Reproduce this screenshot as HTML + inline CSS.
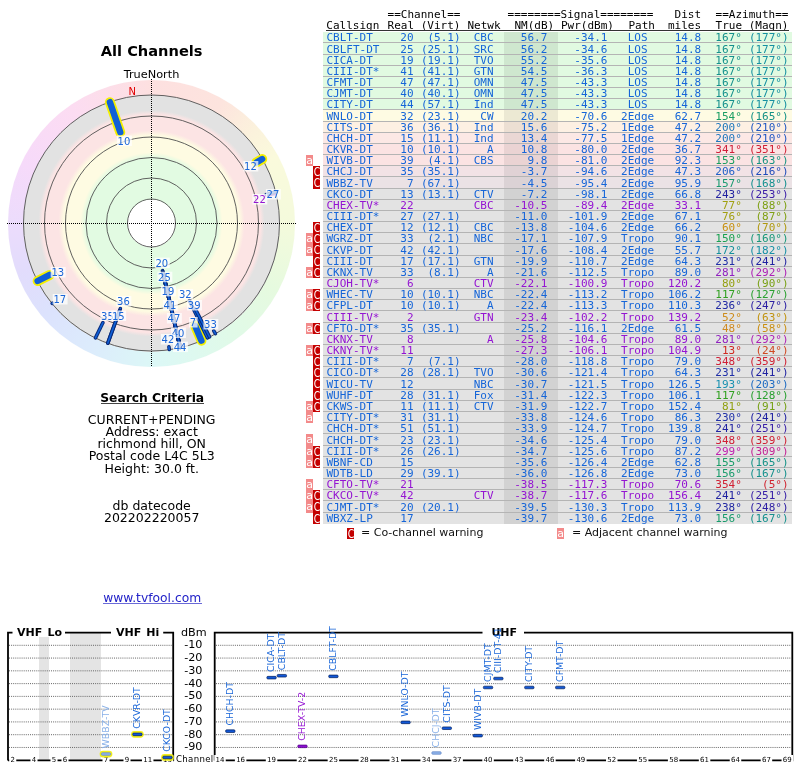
<!DOCTYPE html>
<html><head><meta charset="utf-8"><title>TV Fool</title>
<style>
html,body{margin:0;padding:0;background:#fff;}
body{width:800px;height:768px;overflow:hidden;position:relative;font-family:"DejaVu Sans","Liberation Sans",sans-serif;}
i{font-style:normal;position:absolute;white-space:pre;}
.m{font-family:"DejaVu Sans Mono","Liberation Mono",monospace;font-size:11px;line-height:11px;height:11px;margin-top:-9px;}
.row{position:absolute;left:323px;width:469px;}
.strip{position:absolute;left:504px;width:53.5px;}
.sep{position:absolute;left:323px;width:469px;height:1px;background:#b4b4b4;}
.wa,.wc{position:absolute;width:7px;height:11px;color:#fff;font:11px/12px "DejaVu Sans",sans-serif;text-align:center;overflow:hidden;}
.wc{font-size:11.5px;line-height:13px;}
.wc b{display:inline-block;font-weight:normal;transform:scaleX(.8);}
.hd{color:#1a1a1a;}
.wa{background:#f38a8a;}
.wc{background:#c40000;}
.s{font-size:12px;line-height:14px;}
</style></head><body>

<i class="m" style="left:387.60px;top:17.90px">==Channel==</i>
<i class="m" style="left:507.60px;top:17.90px">========Signal========</i>
<i class="m" style="left:674.52px;top:17.90px">Dist</i>
<i class="m" style="left:715.60px;top:17.90px">==Azimuth==</i>
<i class="m" style="left:326.30px;top:28.75px">Callsign</i>
<i class="m" style="left:387.60px;top:28.75px">Real (Virt)</i>
<i class="m" style="left:467.50px;top:28.75px">Netwk</i>
<i class="m" style="left:514.40px;top:28.75px">NM(dB)</i>
<i class="m" style="left:561.00px;top:28.75px">Pwr(dBm)</i>
<i class="m" style="left:628.40px;top:28.75px">Path</i>
<i class="m" style="left:667.90px;top:28.75px">miles</i>
<i class="m" style="left:715.60px;top:28.75px">True (Magn)</i>
<div style="position:absolute;left:326px;top:30px;width:463px;height:1px;background:#333"></div>
<div class="row" style="top:32px;height:11px;background:#e1fae1"></div>
<div class="strip" style="top:32px;height:11px;background:#cfe7cf"></div>
<div class="sep" style="top:42px"></div>
<i class="m" style="left:326.50px;top:41.00px;color:#1565d8">CBLT-DT</i>
<i class="m" style="left:400.36px;top:41.00px;color:#1565d8">20</i>
<i class="m" style="left:427.50px;top:41.00px;color:#1565d8">(5.1)</i>
<i class="m" style="left:473.74px;top:41.00px;color:#1565d8">CBC</i>
<i class="m" style="left:520.82px;top:41.00px;color:#1565d8">56.7</i>
<i class="m" style="left:574.30px;top:41.00px;color:#1565d8">-34.1</i>
<i class="m" style="left:627.67px;top:41.00px;color:#1565d8">LOS</i>
<i class="m" style="left:674.72px;top:41.00px;color:#1565d8">14.8</i>
<i class="m" style="left:715.32px;top:41.00px;color:#14908c">167°</i>
<i class="m" style="left:748.88px;top:41.00px;color:#1590a1">(177°)</i>
<div class="row" style="top:43px;height:12px;background:#e1fae1"></div>
<div class="strip" style="top:43px;height:12px;background:#cfe7cf"></div>
<div class="sep" style="top:54px"></div>
<i class="m" style="left:326.50px;top:53.00px;color:#1565d8">CBLFT-DT</i>
<i class="m" style="left:400.36px;top:53.00px;color:#1565d8">25</i>
<i class="m" style="left:420.88px;top:53.00px;color:#1565d8">(25.1)</i>
<i class="m" style="left:473.74px;top:53.00px;color:#1565d8">SRC</i>
<i class="m" style="left:520.82px;top:53.00px;color:#1565d8">56.2</i>
<i class="m" style="left:574.30px;top:53.00px;color:#1565d8">-34.6</i>
<i class="m" style="left:627.67px;top:53.00px;color:#1565d8">LOS</i>
<i class="m" style="left:674.72px;top:53.00px;color:#1565d8">14.8</i>
<i class="m" style="left:715.32px;top:53.00px;color:#14908c">167°</i>
<i class="m" style="left:748.88px;top:53.00px;color:#1590a1">(177°)</i>
<div class="row" style="top:55px;height:11px;background:#e1fae1"></div>
<div class="strip" style="top:55px;height:11px;background:#cfe7cf"></div>
<div class="sep" style="top:65px"></div>
<i class="m" style="left:326.50px;top:64.00px;color:#1565d8">CICA-DT</i>
<i class="m" style="left:400.36px;top:64.00px;color:#1565d8">19</i>
<i class="m" style="left:420.88px;top:64.00px;color:#1565d8">(19.1)</i>
<i class="m" style="left:473.74px;top:64.00px;color:#1565d8">TVO</i>
<i class="m" style="left:520.82px;top:64.00px;color:#1565d8">55.2</i>
<i class="m" style="left:574.30px;top:64.00px;color:#1565d8">-35.6</i>
<i class="m" style="left:627.67px;top:64.00px;color:#1565d8">LOS</i>
<i class="m" style="left:674.72px;top:64.00px;color:#1565d8">14.8</i>
<i class="m" style="left:715.32px;top:64.00px;color:#14908c">167°</i>
<i class="m" style="left:748.88px;top:64.00px;color:#1590a1">(177°)</i>
<div class="row" style="top:66px;height:11px;background:#e1fae1"></div>
<div class="strip" style="top:66px;height:11px;background:#cfe7cf"></div>
<div class="sep" style="top:76px"></div>
<i class="m" style="left:326.50px;top:75.00px;color:#1565d8">CIII-DT*</i>
<i class="m" style="left:400.36px;top:75.00px;color:#1565d8">41</i>
<i class="m" style="left:420.88px;top:75.00px;color:#1565d8">(41.1)</i>
<i class="m" style="left:473.74px;top:75.00px;color:#1565d8">GTN</i>
<i class="m" style="left:520.82px;top:75.00px;color:#1565d8">54.5</i>
<i class="m" style="left:574.30px;top:75.00px;color:#1565d8">-36.3</i>
<i class="m" style="left:627.67px;top:75.00px;color:#1565d8">LOS</i>
<i class="m" style="left:674.72px;top:75.00px;color:#1565d8">14.8</i>
<i class="m" style="left:715.32px;top:75.00px;color:#14908c">167°</i>
<i class="m" style="left:748.88px;top:75.00px;color:#1590a1">(177°)</i>
<div class="row" style="top:77px;height:11px;background:#e1fae1"></div>
<div class="strip" style="top:77px;height:11px;background:#cfe7cf"></div>
<div class="sep" style="top:87px"></div>
<i class="m" style="left:326.50px;top:86.00px;color:#1565d8">CFMT-DT</i>
<i class="m" style="left:400.36px;top:86.00px;color:#1565d8">47</i>
<i class="m" style="left:420.88px;top:86.00px;color:#1565d8">(47.1)</i>
<i class="m" style="left:473.74px;top:86.00px;color:#1565d8">OMN</i>
<i class="m" style="left:520.82px;top:86.00px;color:#1565d8">47.5</i>
<i class="m" style="left:574.30px;top:86.00px;color:#1565d8">-43.3</i>
<i class="m" style="left:627.67px;top:86.00px;color:#1565d8">LOS</i>
<i class="m" style="left:674.72px;top:86.00px;color:#1565d8">14.8</i>
<i class="m" style="left:715.32px;top:86.00px;color:#14908c">167°</i>
<i class="m" style="left:748.88px;top:86.00px;color:#1590a1">(177°)</i>
<div class="row" style="top:88px;height:11px;background:#e1fae1"></div>
<div class="strip" style="top:88px;height:11px;background:#cfe7cf"></div>
<div class="sep" style="top:98px"></div>
<i class="m" style="left:326.50px;top:97.00px;color:#1565d8">CJMT-DT</i>
<i class="m" style="left:400.36px;top:97.00px;color:#1565d8">40</i>
<i class="m" style="left:420.88px;top:97.00px;color:#1565d8">(40.1)</i>
<i class="m" style="left:473.74px;top:97.00px;color:#1565d8">OMN</i>
<i class="m" style="left:520.82px;top:97.00px;color:#1565d8">47.5</i>
<i class="m" style="left:574.30px;top:97.00px;color:#1565d8">-43.3</i>
<i class="m" style="left:627.67px;top:97.00px;color:#1565d8">LOS</i>
<i class="m" style="left:674.72px;top:97.00px;color:#1565d8">14.8</i>
<i class="m" style="left:715.32px;top:97.00px;color:#14908c">167°</i>
<i class="m" style="left:748.88px;top:97.00px;color:#1590a1">(177°)</i>
<div class="row" style="top:99px;height:11px;background:#e1fae1"></div>
<div class="strip" style="top:99px;height:11px;background:#cfe7cf"></div>
<div class="sep" style="top:109px"></div>
<i class="m" style="left:326.50px;top:108.00px;color:#1565d8">CITY-DT</i>
<i class="m" style="left:400.36px;top:108.00px;color:#1565d8">44</i>
<i class="m" style="left:420.88px;top:108.00px;color:#1565d8">(57.1)</i>
<i class="m" style="left:473.74px;top:108.00px;color:#1565d8">Ind</i>
<i class="m" style="left:520.82px;top:108.00px;color:#1565d8">47.5</i>
<i class="m" style="left:574.30px;top:108.00px;color:#1565d8">-43.3</i>
<i class="m" style="left:627.67px;top:108.00px;color:#1565d8">LOS</i>
<i class="m" style="left:674.72px;top:108.00px;color:#1565d8">14.8</i>
<i class="m" style="left:715.32px;top:108.00px;color:#14908c">167°</i>
<i class="m" style="left:748.88px;top:108.00px;color:#1590a1">(177°)</i>
<div class="row" style="top:110px;height:12px;background:#fefbe3"></div>
<div class="strip" style="top:110px;height:12px;background:#ece9d3"></div>
<div class="sep" style="top:121px"></div>
<i class="m" style="left:326.50px;top:120.00px;color:#1565d8">WNLO-DT</i>
<i class="m" style="left:400.36px;top:120.00px;color:#1565d8">32</i>
<i class="m" style="left:420.88px;top:120.00px;color:#1565d8">(23.1)</i>
<i class="m" style="left:480.36px;top:120.00px;color:#1565d8">CW</i>
<i class="m" style="left:520.82px;top:120.00px;color:#1565d8">20.2</i>
<i class="m" style="left:574.30px;top:120.00px;color:#1565d8">-70.6</i>
<i class="m" style="left:621.05px;top:120.00px;color:#1565d8">2Edge</i>
<i class="m" style="left:674.72px;top:120.00px;color:#1565d8">62.7</i>
<i class="m" style="left:715.32px;top:120.00px;color:#189d62">154°</i>
<i class="m" style="left:748.88px;top:120.00px;color:#159286">(165°)</i>
<div class="row" style="top:122px;height:11px;background:#fdf0e3"></div>
<div class="strip" style="top:122px;height:11px;background:#ecdfd3"></div>
<div class="sep" style="top:132px"></div>
<i class="m" style="left:326.50px;top:131.00px;color:#1565d8">CITS-DT</i>
<i class="m" style="left:400.36px;top:131.00px;color:#1565d8">36</i>
<i class="m" style="left:420.88px;top:131.00px;color:#1565d8">(36.1)</i>
<i class="m" style="left:473.74px;top:131.00px;color:#1565d8">Ind</i>
<i class="m" style="left:520.82px;top:131.00px;color:#1565d8">15.6</i>
<i class="m" style="left:574.30px;top:131.00px;color:#1565d8">-75.2</i>
<i class="m" style="left:621.05px;top:131.00px;color:#1565d8">1Edge</i>
<i class="m" style="left:674.72px;top:131.00px;color:#1565d8">47.2</i>
<i class="m" style="left:715.32px;top:131.00px;color:#1c76bd">200°</i>
<i class="m" style="left:748.88px;top:131.00px;color:#2058c3">(210°)</i>
<div class="row" style="top:133px;height:11px;background:#fce8e5"></div>
<div class="strip" style="top:133px;height:11px;background:#ead7d4"></div>
<div class="sep" style="top:143px"></div>
<i class="m" style="left:326.50px;top:142.00px;color:#1565d8">CHCH-DT</i>
<i class="m" style="left:400.36px;top:142.00px;color:#1565d8">15</i>
<i class="m" style="left:420.88px;top:142.00px;color:#1565d8">(11.1)</i>
<i class="m" style="left:473.74px;top:142.00px;color:#1565d8">Ind</i>
<i class="m" style="left:520.82px;top:142.00px;color:#1565d8">13.4</i>
<i class="m" style="left:574.30px;top:142.00px;color:#1565d8">-77.5</i>
<i class="m" style="left:621.05px;top:142.00px;color:#1565d8">1Edge</i>
<i class="m" style="left:674.72px;top:142.00px;color:#1565d8">47.2</i>
<i class="m" style="left:715.32px;top:142.00px;color:#1c76bd">200°</i>
<i class="m" style="left:748.88px;top:142.00px;color:#2058c3">(210°)</i>
<div class="row" style="top:144px;height:11px;background:#fbe3e3"></div>
<div class="strip" style="top:144px;height:11px;background:#ead3d3"></div>
<div class="sep" style="top:154px"></div>
<i class="m" style="left:326.50px;top:153.00px;color:#1565d8">CKVR-DT</i>
<i class="m" style="left:400.36px;top:153.00px;color:#1565d8">10</i>
<i class="m" style="left:420.88px;top:153.00px;color:#1565d8">(10.1)</i>
<i class="m" style="left:486.98px;top:153.00px;color:#1565d8">A</i>
<i class="m" style="left:520.82px;top:153.00px;color:#1565d8">10.8</i>
<i class="m" style="left:574.30px;top:153.00px;color:#1565d8">-80.0</i>
<i class="m" style="left:621.05px;top:153.00px;color:#1565d8">2Edge</i>
<i class="m" style="left:674.72px;top:153.00px;color:#1565d8">36.7</i>
<i class="m" style="left:715.32px;top:153.00px;color:#d0203a">341°</i>
<i class="m" style="left:748.88px;top:153.00px;color:#d02035">(351°)</i>
<div class="row" style="top:155px;height:11px;background:#fbe3e3"></div>
<div class="strip" style="top:155px;height:11px;background:#ead3d3"></div>
<div class="sep" style="top:165px"></div>
<i class="m" style="left:326.50px;top:164.00px;color:#1565d8">WIVB-DT</i>
<i class="m" style="left:400.36px;top:164.00px;color:#1565d8">39</i>
<i class="m" style="left:427.50px;top:164.00px;color:#1565d8">(4.1)</i>
<i class="m" style="left:473.74px;top:164.00px;color:#1565d8">CBS</i>
<i class="m" style="left:527.44px;top:164.00px;color:#1565d8">9.8</i>
<i class="m" style="left:574.30px;top:164.00px;color:#1565d8">-81.0</i>
<i class="m" style="left:621.05px;top:164.00px;color:#1565d8">2Edge</i>
<i class="m" style="left:674.72px;top:164.00px;color:#1565d8">92.3</i>
<i class="m" style="left:715.32px;top:164.00px;color:#189d5e">153°</i>
<i class="m" style="left:748.88px;top:164.00px;color:#169481">(163°)</i>
<i class="wa" style="left:306px;top:155px;height:11px">a</i>
<div class="row" style="top:166px;height:11px;background:#f2e2e5"></div>
<div class="strip" style="top:166px;height:11px;background:#e0d2d5"></div>
<div class="sep" style="top:176px"></div>
<i class="m" style="left:326.50px;top:175.00px;color:#1565d8">CHCJ-DT</i>
<i class="m" style="left:400.36px;top:175.00px;color:#1565d8">35</i>
<i class="m" style="left:420.88px;top:175.00px;color:#1565d8">(35.1)</i>
<i class="m" style="left:520.82px;top:175.00px;color:#1565d8">-3.7</i>
<i class="m" style="left:574.30px;top:175.00px;color:#1565d8">-94.6</i>
<i class="m" style="left:621.05px;top:175.00px;color:#1565d8">2Edge</i>
<i class="m" style="left:674.72px;top:175.00px;color:#1565d8">47.3</i>
<i class="m" style="left:715.32px;top:175.00px;color:#2060c8">206°</i>
<i class="m" style="left:748.88px;top:175.00px;color:#204cbb">(216°)</i>
<i class="wc" style="left:313px;top:166px;height:11px"><b>C</b></i>
<div class="row" style="top:177px;height:12px;background:#ebe2e5"></div>
<div class="strip" style="top:177px;height:12px;background:#dbd2d5"></div>
<div class="sep" style="top:188px"></div>
<i class="m" style="left:326.50px;top:187.00px;color:#1565d8">WBBZ-TV</i>
<i class="m" style="left:406.98px;top:187.00px;color:#1565d8">7</i>
<i class="m" style="left:420.88px;top:187.00px;color:#1565d8">(67.1)</i>
<i class="m" style="left:520.82px;top:187.00px;color:#1565d8">-4.5</i>
<i class="m" style="left:574.30px;top:187.00px;color:#1565d8">-95.4</i>
<i class="m" style="left:621.05px;top:187.00px;color:#1565d8">2Edge</i>
<i class="m" style="left:674.72px;top:187.00px;color:#1565d8">95.9</i>
<i class="m" style="left:715.32px;top:187.00px;color:#189a70">157°</i>
<i class="m" style="left:748.88px;top:187.00px;color:#14908f">(168°)</i>
<i class="wc" style="left:313px;top:177px;height:12px"><b>C</b></i>
<div class="row" style="top:189px;height:11px;background:#e3e3e3"></div>
<div class="strip" style="top:189px;height:11px;background:#d2d2d2"></div>
<div class="sep" style="top:199px"></div>
<i class="m" style="left:326.50px;top:198.00px;color:#1565d8">CKCO-DT</i>
<i class="m" style="left:400.36px;top:198.00px;color:#1565d8">13</i>
<i class="m" style="left:420.88px;top:198.00px;color:#1565d8">(13.1)</i>
<i class="m" style="left:473.74px;top:198.00px;color:#1565d8">CTV</i>
<i class="m" style="left:520.82px;top:198.00px;color:#1565d8">-7.2</i>
<i class="m" style="left:574.30px;top:198.00px;color:#1565d8">-98.1</i>
<i class="m" style="left:621.05px;top:198.00px;color:#1565d8">2Edge</i>
<i class="m" style="left:674.72px;top:198.00px;color:#1565d8">66.8</i>
<i class="m" style="left:715.32px;top:198.00px;color:#2020a0">243°</i>
<i class="m" style="left:748.88px;top:198.00px;color:#3d20a8">(253°)</i>
<div class="row" style="top:200px;height:11px;background:#e3e3e3"></div>
<div class="strip" style="top:200px;height:11px;background:#d2d2d2"></div>
<div class="sep" style="top:210px"></div>
<i class="m" style="left:326.50px;top:209.00px;color:#9414d2">CHEX-TV*</i>
<i class="m" style="left:400.36px;top:209.00px;color:#9414d2">22</i>
<i class="m" style="left:473.74px;top:209.00px;color:#9414d2">CBC</i>
<i class="m" style="left:514.20px;top:209.00px;color:#9414d2">-10.5</i>
<i class="m" style="left:574.30px;top:209.00px;color:#9414d2">-89.4</i>
<i class="m" style="left:621.05px;top:209.00px;color:#9414d2">2Edge</i>
<i class="m" style="left:674.72px;top:209.00px;color:#9414d2">33.1</i>
<i class="m" style="left:721.94px;top:209.00px;color:#a0a010">77°</i>
<i class="m" style="left:755.50px;top:209.00px;color:#7da013">(88°)</i>
<div class="row" style="top:211px;height:11px;background:#e3e3e3"></div>
<div class="strip" style="top:211px;height:11px;background:#d2d2d2"></div>
<div class="sep" style="top:221px"></div>
<i class="m" style="left:326.50px;top:220.00px;color:#1565d8">CIII-DT*</i>
<i class="m" style="left:400.36px;top:220.00px;color:#1565d8">27</i>
<i class="m" style="left:420.88px;top:220.00px;color:#1565d8">(27.1)</i>
<i class="m" style="left:514.20px;top:220.00px;color:#1565d8">-11.0</i>
<i class="m" style="left:567.68px;top:220.00px;color:#1565d8">-101.9</i>
<i class="m" style="left:621.05px;top:220.00px;color:#1565d8">2Edge</i>
<i class="m" style="left:674.72px;top:220.00px;color:#1565d8">67.1</i>
<i class="m" style="left:721.94px;top:220.00px;color:#a29f10">76°</i>
<i class="m" style="left:755.50px;top:220.00px;color:#80a013">(87°)</i>
<div class="row" style="top:222px;height:11px;background:#e3e3e3"></div>
<div class="strip" style="top:222px;height:11px;background:#d2d2d2"></div>
<div class="sep" style="top:232px"></div>
<i class="m" style="left:326.50px;top:231.00px;color:#1565d8">CHEX-DT</i>
<i class="m" style="left:400.36px;top:231.00px;color:#1565d8">12</i>
<i class="m" style="left:420.88px;top:231.00px;color:#1565d8">(12.1)</i>
<i class="m" style="left:473.74px;top:231.00px;color:#1565d8">CBC</i>
<i class="m" style="left:514.20px;top:231.00px;color:#1565d8">-13.8</i>
<i class="m" style="left:567.68px;top:231.00px;color:#1565d8">-104.6</i>
<i class="m" style="left:621.05px;top:231.00px;color:#1565d8">2Edge</i>
<i class="m" style="left:674.72px;top:231.00px;color:#1565d8">66.2</i>
<i class="m" style="left:721.94px;top:231.00px;color:#c89010">60°</i>
<i class="m" style="left:755.50px;top:231.00px;color:#b09910">(70°)</i>
<i class="wc" style="left:313px;top:222px;height:11px"><b>C</b></i>
<div class="row" style="top:233px;height:11px;background:#e3e3e3"></div>
<div class="strip" style="top:233px;height:11px;background:#d2d2d2"></div>
<div class="sep" style="top:243px"></div>
<i class="m" style="left:326.50px;top:242.00px;color:#1565d8">WGRZ-DT</i>
<i class="m" style="left:400.36px;top:242.00px;color:#1565d8">33</i>
<i class="m" style="left:427.50px;top:242.00px;color:#1565d8">(2.1)</i>
<i class="m" style="left:473.74px;top:242.00px;color:#1565d8">NBC</i>
<i class="m" style="left:514.20px;top:242.00px;color:#1565d8">-17.1</i>
<i class="m" style="left:567.68px;top:242.00px;color:#1565d8">-107.9</i>
<i class="m" style="left:621.05px;top:242.00px;color:#1565d8">Tropo</i>
<i class="m" style="left:674.72px;top:242.00px;color:#1565d8">90.1</i>
<i class="m" style="left:715.32px;top:242.00px;color:#18a050">150°</i>
<i class="m" style="left:748.88px;top:242.00px;color:#179778">(160°)</i>
<i class="wc" style="left:313px;top:233px;height:11px"><b>C</b></i>
<i class="wa" style="left:306px;top:233px;height:11px">a</i>
<div class="row" style="top:244px;height:12px;background:#e3e3e3"></div>
<div class="strip" style="top:244px;height:12px;background:#d2d2d2"></div>
<div class="sep" style="top:255px"></div>
<i class="m" style="left:326.50px;top:254.00px;color:#1565d8">CKVP-DT</i>
<i class="m" style="left:400.36px;top:254.00px;color:#1565d8">42</i>
<i class="m" style="left:420.88px;top:254.00px;color:#1565d8">(42.1)</i>
<i class="m" style="left:514.20px;top:254.00px;color:#1565d8">-17.6</i>
<i class="m" style="left:567.68px;top:254.00px;color:#1565d8">-108.4</i>
<i class="m" style="left:621.05px;top:254.00px;color:#1565d8">2Edge</i>
<i class="m" style="left:674.72px;top:254.00px;color:#1565d8">55.7</i>
<i class="m" style="left:715.32px;top:254.00px;color:#14909c">172°</i>
<i class="m" style="left:748.88px;top:254.00px;color:#1690a6">(182°)</i>
<i class="wc" style="left:313px;top:244px;height:12px"><b>C</b></i>
<i class="wa" style="left:306px;top:244px;height:12px">a</i>
<div class="row" style="top:256px;height:11px;background:#e3e3e3"></div>
<div class="strip" style="top:256px;height:11px;background:#d2d2d2"></div>
<div class="sep" style="top:266px"></div>
<i class="m" style="left:326.50px;top:265.00px;color:#1565d8">CIII-DT</i>
<i class="m" style="left:400.36px;top:265.00px;color:#1565d8">17</i>
<i class="m" style="left:420.88px;top:265.00px;color:#1565d8">(17.1)</i>
<i class="m" style="left:473.74px;top:265.00px;color:#1565d8">GTN</i>
<i class="m" style="left:514.20px;top:265.00px;color:#1565d8">-19.9</i>
<i class="m" style="left:567.68px;top:265.00px;color:#1565d8">-110.7</i>
<i class="m" style="left:621.05px;top:265.00px;color:#1565d8">2Edge</i>
<i class="m" style="left:674.72px;top:265.00px;color:#1565d8">64.3</i>
<i class="m" style="left:715.32px;top:265.00px;color:#202fa7">231°</i>
<i class="m" style="left:748.88px;top:265.00px;color:#2022a1">(241°)</i>
<i class="wc" style="left:313px;top:256px;height:11px"><b>C</b></i>
<div class="row" style="top:267px;height:11px;background:#e3e3e3"></div>
<div class="strip" style="top:267px;height:11px;background:#d2d2d2"></div>
<div class="sep" style="top:277px"></div>
<i class="m" style="left:326.50px;top:276.00px;color:#1565d8">CKNX-TV</i>
<i class="m" style="left:400.36px;top:276.00px;color:#1565d8">33</i>
<i class="m" style="left:427.50px;top:276.00px;color:#1565d8">(8.1)</i>
<i class="m" style="left:486.98px;top:276.00px;color:#1565d8">A</i>
<i class="m" style="left:514.20px;top:276.00px;color:#1565d8">-21.6</i>
<i class="m" style="left:567.68px;top:276.00px;color:#1565d8">-112.5</i>
<i class="m" style="left:621.05px;top:276.00px;color:#1565d8">Tropo</i>
<i class="m" style="left:674.72px;top:276.00px;color:#1565d8">89.0</i>
<i class="m" style="left:715.32px;top:276.00px;color:#9020c0">281°</i>
<i class="m" style="left:748.88px;top:276.00px;color:#ad20b6">(292°)</i>
<i class="wc" style="left:313px;top:267px;height:11px"><b>C</b></i>
<i class="wa" style="left:306px;top:267px;height:11px">a</i>
<div class="row" style="top:278px;height:11px;background:#e3e3e3"></div>
<div class="strip" style="top:278px;height:11px;background:#d2d2d2"></div>
<div class="sep" style="top:288px"></div>
<i class="m" style="left:326.50px;top:287.00px;color:#9414d2">CJOH-TV*</i>
<i class="m" style="left:406.98px;top:287.00px;color:#9414d2">6</i>
<i class="m" style="left:473.74px;top:287.00px;color:#9414d2">CTV</i>
<i class="m" style="left:514.20px;top:287.00px;color:#9414d2">-22.1</i>
<i class="m" style="left:567.68px;top:287.00px;color:#9414d2">-100.9</i>
<i class="m" style="left:621.05px;top:287.00px;color:#9414d2">Tropo</i>
<i class="m" style="left:668.10px;top:287.00px;color:#9414d2">120.2</i>
<i class="m" style="left:721.94px;top:287.00px;color:#94a010">80°</i>
<i class="m" style="left:755.50px;top:287.00px;color:#78a014">(90°)</i>
<div class="row" style="top:289px;height:11px;background:#e3e3e3"></div>
<div class="strip" style="top:289px;height:11px;background:#d2d2d2"></div>
<div class="sep" style="top:299px"></div>
<i class="m" style="left:326.50px;top:298.00px;color:#1565d8">WHEC-TV</i>
<i class="m" style="left:400.36px;top:298.00px;color:#1565d8">10</i>
<i class="m" style="left:420.88px;top:298.00px;color:#1565d8">(10.1)</i>
<i class="m" style="left:473.74px;top:298.00px;color:#1565d8">NBC</i>
<i class="m" style="left:514.20px;top:298.00px;color:#1565d8">-22.4</i>
<i class="m" style="left:567.68px;top:298.00px;color:#1565d8">-113.2</i>
<i class="m" style="left:621.05px;top:298.00px;color:#1565d8">Tropo</i>
<i class="m" style="left:668.10px;top:298.00px;color:#1565d8">106.2</i>
<i class="m" style="left:715.32px;top:298.00px;color:#30a020">117°</i>
<i class="m" style="left:748.88px;top:298.00px;color:#29a02f">(127°)</i>
<i class="wc" style="left:313px;top:289px;height:11px"><b>C</b></i>
<i class="wa" style="left:306px;top:289px;height:11px">a</i>
<div class="row" style="top:300px;height:11px;background:#e3e3e3"></div>
<div class="strip" style="top:300px;height:11px;background:#d2d2d2"></div>
<div class="sep" style="top:310px"></div>
<i class="m" style="left:326.50px;top:309.00px;color:#1565d8">CFPL-DT</i>
<i class="m" style="left:400.36px;top:309.00px;color:#1565d8">10</i>
<i class="m" style="left:420.88px;top:309.00px;color:#1565d8">(10.1)</i>
<i class="m" style="left:486.98px;top:309.00px;color:#1565d8">A</i>
<i class="m" style="left:514.20px;top:309.00px;color:#1565d8">-22.4</i>
<i class="m" style="left:567.68px;top:309.00px;color:#1565d8">-113.3</i>
<i class="m" style="left:621.05px;top:309.00px;color:#1565d8">Tropo</i>
<i class="m" style="left:668.10px;top:309.00px;color:#1565d8">110.3</i>
<i class="m" style="left:715.32px;top:309.00px;color:#2029a4">236°</i>
<i class="m" style="left:748.88px;top:309.00px;color:#2c20a3">(247°)</i>
<i class="wc" style="left:313px;top:300px;height:11px"><b>C</b></i>
<i class="wa" style="left:306px;top:300px;height:11px">a</i>
<div class="row" style="top:311px;height:12px;background:#e3e3e3"></div>
<div class="strip" style="top:311px;height:12px;background:#d2d2d2"></div>
<div class="sep" style="top:322px"></div>
<i class="m" style="left:326.50px;top:321.00px;color:#9414d2">CIII-TV*</i>
<i class="m" style="left:406.98px;top:321.00px;color:#9414d2">2</i>
<i class="m" style="left:473.74px;top:321.00px;color:#9414d2">GTN</i>
<i class="m" style="left:514.20px;top:321.00px;color:#9414d2">-23.4</i>
<i class="m" style="left:567.68px;top:321.00px;color:#9414d2">-102.2</i>
<i class="m" style="left:621.05px;top:321.00px;color:#9414d2">Tropo</i>
<i class="m" style="left:668.10px;top:321.00px;color:#9414d2">139.2</i>
<i class="m" style="left:721.94px;top:321.00px;color:#cd8c1b">52°</i>
<i class="m" style="left:755.50px;top:321.00px;color:#c19310">(63°)</i>
<div class="row" style="top:323px;height:11px;background:#e3e3e3"></div>
<div class="strip" style="top:323px;height:11px;background:#d2d2d2"></div>
<div class="sep" style="top:333px"></div>
<i class="m" style="left:326.50px;top:332.00px;color:#1565d8">CFTO-DT*</i>
<i class="m" style="left:400.36px;top:332.00px;color:#1565d8">35</i>
<i class="m" style="left:420.88px;top:332.00px;color:#1565d8">(35.1)</i>
<i class="m" style="left:514.20px;top:332.00px;color:#1565d8">-25.2</i>
<i class="m" style="left:567.68px;top:332.00px;color:#1565d8">-116.1</i>
<i class="m" style="left:621.05px;top:332.00px;color:#1565d8">2Edge</i>
<i class="m" style="left:674.72px;top:332.00px;color:#1565d8">61.5</i>
<i class="m" style="left:721.94px;top:332.00px;color:#d08a20">48°</i>
<i class="m" style="left:755.50px;top:332.00px;color:#c98f13">(58°)</i>
<i class="wc" style="left:313px;top:323px;height:11px"><b>C</b></i>
<i class="wa" style="left:306px;top:323px;height:11px">a</i>
<div class="row" style="top:334px;height:11px;background:#e3e3e3"></div>
<div class="strip" style="top:334px;height:11px;background:#d2d2d2"></div>
<div class="sep" style="top:344px"></div>
<i class="m" style="left:326.50px;top:343.00px;color:#9414d2">CKNX-TV</i>
<i class="m" style="left:406.98px;top:343.00px;color:#9414d2">8</i>
<i class="m" style="left:486.98px;top:343.00px;color:#9414d2">A</i>
<i class="m" style="left:514.20px;top:343.00px;color:#9414d2">-25.8</i>
<i class="m" style="left:567.68px;top:343.00px;color:#9414d2">-104.6</i>
<i class="m" style="left:621.05px;top:343.00px;color:#9414d2">Tropo</i>
<i class="m" style="left:674.72px;top:343.00px;color:#9414d2">89.0</i>
<i class="m" style="left:715.32px;top:343.00px;color:#9020c0">281°</i>
<i class="m" style="left:748.88px;top:343.00px;color:#ad20b6">(292°)</i>
<div class="row" style="top:345px;height:11px;background:#e3e3e3"></div>
<div class="strip" style="top:345px;height:11px;background:#d2d2d2"></div>
<div class="sep" style="top:355px"></div>
<i class="m" style="left:326.50px;top:354.00px;color:#9414d2">CKNY-TV*</i>
<i class="m" style="left:400.36px;top:354.00px;color:#9414d2">11</i>
<i class="m" style="left:514.20px;top:354.00px;color:#9414d2">-27.3</i>
<i class="m" style="left:567.68px;top:354.00px;color:#9414d2">-106.1</i>
<i class="m" style="left:621.05px;top:354.00px;color:#9414d2">Tropo</i>
<i class="m" style="left:668.10px;top:354.00px;color:#9414d2">104.9</i>
<i class="m" style="left:721.94px;top:354.00px;color:#d02a20">13°</i>
<i class="m" style="left:755.50px;top:354.00px;color:#d04820">(24°)</i>
<i class="wc" style="left:313px;top:345px;height:11px"><b>C</b></i>
<i class="wa" style="left:306px;top:345px;height:11px">a</i>
<div class="row" style="top:356px;height:11px;background:#e3e3e3"></div>
<div class="strip" style="top:356px;height:11px;background:#d2d2d2"></div>
<div class="sep" style="top:366px"></div>
<i class="m" style="left:326.50px;top:365.00px;color:#1565d8">CIII-DT*</i>
<i class="m" style="left:406.98px;top:365.00px;color:#1565d8">7</i>
<i class="m" style="left:427.50px;top:365.00px;color:#1565d8">(7.1)</i>
<i class="m" style="left:514.20px;top:365.00px;color:#1565d8">-28.0</i>
<i class="m" style="left:567.68px;top:365.00px;color:#1565d8">-118.8</i>
<i class="m" style="left:621.05px;top:365.00px;color:#1565d8">Tropo</i>
<i class="m" style="left:674.72px;top:365.00px;color:#1565d8">79.0</i>
<i class="m" style="left:715.32px;top:365.00px;color:#d02036">348°</i>
<i class="m" style="left:748.88px;top:365.00px;color:#d02031">(359°)</i>
<i class="wc" style="left:313px;top:356px;height:11px"><b>C</b></i>
<div class="row" style="top:367px;height:11px;background:#e3e3e3"></div>
<div class="strip" style="top:367px;height:11px;background:#d2d2d2"></div>
<div class="sep" style="top:377px"></div>
<i class="m" style="left:326.50px;top:376.00px;color:#1565d8">CICO-DT*</i>
<i class="m" style="left:400.36px;top:376.00px;color:#1565d8">28</i>
<i class="m" style="left:420.88px;top:376.00px;color:#1565d8">(28.1)</i>
<i class="m" style="left:473.74px;top:376.00px;color:#1565d8">TVO</i>
<i class="m" style="left:514.20px;top:376.00px;color:#1565d8">-30.6</i>
<i class="m" style="left:567.68px;top:376.00px;color:#1565d8">-121.4</i>
<i class="m" style="left:621.05px;top:376.00px;color:#1565d8">Tropo</i>
<i class="m" style="left:674.72px;top:376.00px;color:#1565d8">64.3</i>
<i class="m" style="left:715.32px;top:376.00px;color:#202fa7">231°</i>
<i class="m" style="left:748.88px;top:376.00px;color:#2022a1">(241°)</i>
<i class="wc" style="left:313px;top:367px;height:11px"><b>C</b></i>
<div class="row" style="top:378px;height:12px;background:#e3e3e3"></div>
<div class="strip" style="top:378px;height:12px;background:#d2d2d2"></div>
<div class="sep" style="top:389px"></div>
<i class="m" style="left:326.50px;top:388.00px;color:#1565d8">WICU-TV</i>
<i class="m" style="left:400.36px;top:388.00px;color:#1565d8">12</i>
<i class="m" style="left:473.74px;top:388.00px;color:#1565d8">NBC</i>
<i class="m" style="left:514.20px;top:388.00px;color:#1565d8">-30.7</i>
<i class="m" style="left:567.68px;top:388.00px;color:#1565d8">-121.5</i>
<i class="m" style="left:621.05px;top:388.00px;color:#1565d8">Tropo</i>
<i class="m" style="left:668.10px;top:388.00px;color:#1565d8">126.5</i>
<i class="m" style="left:715.32px;top:388.00px;color:#1890b0">193°</i>
<i class="m" style="left:748.88px;top:388.00px;color:#1e6bc2">(203°)</i>
<i class="wc" style="left:313px;top:378px;height:12px"><b>C</b></i>
<div class="row" style="top:390px;height:11px;background:#e3e3e3"></div>
<div class="strip" style="top:390px;height:11px;background:#d2d2d2"></div>
<div class="sep" style="top:400px"></div>
<i class="m" style="left:326.50px;top:399.00px;color:#1565d8">WUHF-DT</i>
<i class="m" style="left:400.36px;top:399.00px;color:#1565d8">28</i>
<i class="m" style="left:420.88px;top:399.00px;color:#1565d8">(31.1)</i>
<i class="m" style="left:473.74px;top:399.00px;color:#1565d8">Fox</i>
<i class="m" style="left:514.20px;top:399.00px;color:#1565d8">-31.4</i>
<i class="m" style="left:567.68px;top:399.00px;color:#1565d8">-122.3</i>
<i class="m" style="left:621.05px;top:399.00px;color:#1565d8">Tropo</i>
<i class="m" style="left:668.10px;top:399.00px;color:#1565d8">106.1</i>
<i class="m" style="left:715.32px;top:399.00px;color:#30a020">117°</i>
<i class="m" style="left:748.88px;top:399.00px;color:#28a030">(128°)</i>
<i class="wc" style="left:313px;top:390px;height:11px"><b>C</b></i>
<div class="row" style="top:401px;height:11px;background:#e3e3e3"></div>
<div class="strip" style="top:401px;height:11px;background:#d2d2d2"></div>
<div class="sep" style="top:411px"></div>
<i class="m" style="left:326.50px;top:410.00px;color:#1565d8">CKWS-DT</i>
<i class="m" style="left:400.36px;top:410.00px;color:#1565d8">11</i>
<i class="m" style="left:420.88px;top:410.00px;color:#1565d8">(11.1)</i>
<i class="m" style="left:473.74px;top:410.00px;color:#1565d8">CTV</i>
<i class="m" style="left:514.20px;top:410.00px;color:#1565d8">-31.9</i>
<i class="m" style="left:567.68px;top:410.00px;color:#1565d8">-122.7</i>
<i class="m" style="left:621.05px;top:410.00px;color:#1565d8">Tropo</i>
<i class="m" style="left:668.10px;top:410.00px;color:#1565d8">152.4</i>
<i class="m" style="left:721.94px;top:410.00px;color:#90a010">81°</i>
<i class="m" style="left:755.50px;top:410.00px;color:#75a014">(91°)</i>
<i class="wc" style="left:313px;top:401px;height:11px"><b>C</b></i>
<i class="wa" style="left:306px;top:401px;height:11px">a</i>
<div class="row" style="top:412px;height:11px;background:#e3e3e3"></div>
<div class="strip" style="top:412px;height:11px;background:#d2d2d2"></div>
<div class="sep" style="top:422px"></div>
<i class="m" style="left:326.50px;top:421.00px;color:#1565d8">CITY-DT*</i>
<i class="m" style="left:400.36px;top:421.00px;color:#1565d8">31</i>
<i class="m" style="left:420.88px;top:421.00px;color:#1565d8">(31.1)</i>
<i class="m" style="left:514.20px;top:421.00px;color:#1565d8">-33.8</i>
<i class="m" style="left:567.68px;top:421.00px;color:#1565d8">-124.6</i>
<i class="m" style="left:621.05px;top:421.00px;color:#1565d8">Tropo</i>
<i class="m" style="left:674.72px;top:421.00px;color:#1565d8">86.3</i>
<i class="m" style="left:715.32px;top:421.00px;color:#2030a8">230°</i>
<i class="m" style="left:748.88px;top:421.00px;color:#2022a1">(241°)</i>
<i class="wa" style="left:306px;top:412px;height:11px">a</i>
<div class="row" style="top:423px;height:11px;background:#e3e3e3"></div>
<div class="strip" style="top:423px;height:11px;background:#d2d2d2"></div>
<div class="sep" style="top:433px"></div>
<i class="m" style="left:326.50px;top:432.00px;color:#1565d8">CHCH-DT*</i>
<i class="m" style="left:400.36px;top:432.00px;color:#1565d8">51</i>
<i class="m" style="left:420.88px;top:432.00px;color:#1565d8">(51.1)</i>
<i class="m" style="left:514.20px;top:432.00px;color:#1565d8">-33.9</i>
<i class="m" style="left:567.68px;top:432.00px;color:#1565d8">-124.7</i>
<i class="m" style="left:621.05px;top:432.00px;color:#1565d8">Tropo</i>
<i class="m" style="left:668.10px;top:432.00px;color:#1565d8">139.8</i>
<i class="m" style="left:715.32px;top:432.00px;color:#2022a1">241°</i>
<i class="m" style="left:748.88px;top:432.00px;color:#3820a7">(251°)</i>
<div class="row" style="top:434px;height:12px;background:#e3e3e3"></div>
<div class="strip" style="top:434px;height:12px;background:#d2d2d2"></div>
<div class="sep" style="top:445px"></div>
<i class="m" style="left:326.50px;top:444.00px;color:#1565d8">CHCH-DT*</i>
<i class="m" style="left:400.36px;top:444.00px;color:#1565d8">23</i>
<i class="m" style="left:420.88px;top:444.00px;color:#1565d8">(23.1)</i>
<i class="m" style="left:514.20px;top:444.00px;color:#1565d8">-34.6</i>
<i class="m" style="left:567.68px;top:444.00px;color:#1565d8">-125.4</i>
<i class="m" style="left:621.05px;top:444.00px;color:#1565d8">Tropo</i>
<i class="m" style="left:674.72px;top:444.00px;color:#1565d8">79.0</i>
<i class="m" style="left:715.32px;top:444.00px;color:#d02036">348°</i>
<i class="m" style="left:748.88px;top:444.00px;color:#d02031">(359°)</i>
<i class="wa" style="left:306px;top:434px;height:12px">a</i>
<div class="row" style="top:446px;height:11px;background:#e3e3e3"></div>
<div class="strip" style="top:446px;height:11px;background:#d2d2d2"></div>
<div class="sep" style="top:456px"></div>
<i class="m" style="left:326.50px;top:455.00px;color:#1565d8">CIII-DT*</i>
<i class="m" style="left:400.36px;top:455.00px;color:#1565d8">26</i>
<i class="m" style="left:420.88px;top:455.00px;color:#1565d8">(26.1)</i>
<i class="m" style="left:514.20px;top:455.00px;color:#1565d8">-34.7</i>
<i class="m" style="left:567.68px;top:455.00px;color:#1565d8">-125.6</i>
<i class="m" style="left:621.05px;top:455.00px;color:#1565d8">Tropo</i>
<i class="m" style="left:674.72px;top:455.00px;color:#1565d8">87.2</i>
<i class="m" style="left:715.32px;top:455.00px;color:#c020b0">299°</i>
<i class="m" style="left:748.88px;top:455.00px;color:#c42094">(309°)</i>
<i class="wc" style="left:313px;top:446px;height:11px"><b>C</b></i>
<i class="wa" style="left:306px;top:446px;height:11px">a</i>
<div class="row" style="top:457px;height:11px;background:#e3e3e3"></div>
<div class="strip" style="top:457px;height:11px;background:#d2d2d2"></div>
<div class="sep" style="top:467px"></div>
<i class="m" style="left:326.50px;top:466.00px;color:#1565d8">WBNF-CD</i>
<i class="m" style="left:400.36px;top:466.00px;color:#1565d8">15</i>
<i class="m" style="left:514.20px;top:466.00px;color:#1565d8">-35.6</i>
<i class="m" style="left:567.68px;top:466.00px;color:#1565d8">-126.4</i>
<i class="m" style="left:621.05px;top:466.00px;color:#1565d8">2Edge</i>
<i class="m" style="left:674.72px;top:466.00px;color:#1565d8">62.8</i>
<i class="m" style="left:715.32px;top:466.00px;color:#189c67">155°</i>
<i class="m" style="left:748.88px;top:466.00px;color:#159286">(165°)</i>
<i class="wc" style="left:313px;top:457px;height:11px"><b>C</b></i>
<i class="wa" style="left:306px;top:457px;height:11px">a</i>
<div class="row" style="top:468px;height:11px;background:#e3e3e3"></div>
<div class="strip" style="top:468px;height:11px;background:#d2d2d2"></div>
<div class="sep" style="top:478px"></div>
<i class="m" style="left:326.50px;top:477.00px;color:#1565d8">WDTB-LD</i>
<i class="m" style="left:400.36px;top:477.00px;color:#1565d8">29</i>
<i class="m" style="left:420.88px;top:477.00px;color:#1565d8">(39.1)</i>
<i class="m" style="left:514.20px;top:477.00px;color:#1565d8">-36.0</i>
<i class="m" style="left:567.68px;top:477.00px;color:#1565d8">-126.8</i>
<i class="m" style="left:621.05px;top:477.00px;color:#1565d8">2Edge</i>
<i class="m" style="left:674.72px;top:477.00px;color:#1565d8">73.0</i>
<i class="m" style="left:715.32px;top:477.00px;color:#189b6b">156°</i>
<i class="m" style="left:748.88px;top:477.00px;color:#14908c">(167°)</i>
<div class="row" style="top:479px;height:11px;background:#e3e3e3"></div>
<div class="strip" style="top:479px;height:11px;background:#d2d2d2"></div>
<div class="sep" style="top:489px"></div>
<i class="m" style="left:326.50px;top:488.00px;color:#9414d2">CFTO-TV*</i>
<i class="m" style="left:400.36px;top:488.00px;color:#9414d2">21</i>
<i class="m" style="left:514.20px;top:488.00px;color:#9414d2">-38.5</i>
<i class="m" style="left:567.68px;top:488.00px;color:#9414d2">-117.3</i>
<i class="m" style="left:621.05px;top:488.00px;color:#9414d2">Tropo</i>
<i class="m" style="left:674.72px;top:488.00px;color:#9414d2">70.6</i>
<i class="m" style="left:715.32px;top:488.00px;color:#d02033">354°</i>
<i class="m" style="left:762.12px;top:488.00px;color:#d02430">(5°)</i>
<i class="wa" style="left:306px;top:479px;height:11px">a</i>
<div class="row" style="top:490px;height:11px;background:#e3e3e3"></div>
<div class="strip" style="top:490px;height:11px;background:#d2d2d2"></div>
<div class="sep" style="top:500px"></div>
<i class="m" style="left:326.50px;top:499.00px;color:#9414d2">CKCO-TV*</i>
<i class="m" style="left:400.36px;top:499.00px;color:#9414d2">42</i>
<i class="m" style="left:473.74px;top:499.00px;color:#9414d2">CTV</i>
<i class="m" style="left:514.20px;top:499.00px;color:#9414d2">-38.7</i>
<i class="m" style="left:567.68px;top:499.00px;color:#9414d2">-117.6</i>
<i class="m" style="left:621.05px;top:499.00px;color:#9414d2">Tropo</i>
<i class="m" style="left:668.10px;top:499.00px;color:#9414d2">156.4</i>
<i class="m" style="left:715.32px;top:499.00px;color:#2022a1">241°</i>
<i class="m" style="left:748.88px;top:499.00px;color:#3820a7">(251°)</i>
<i class="wc" style="left:313px;top:490px;height:11px"><b>C</b></i>
<i class="wa" style="left:306px;top:490px;height:11px">a</i>
<div class="row" style="top:501px;height:12px;background:#e3e3e3"></div>
<div class="strip" style="top:501px;height:12px;background:#d2d2d2"></div>
<div class="sep" style="top:512px"></div>
<i class="m" style="left:326.50px;top:511.00px;color:#1565d8">CJMT-DT*</i>
<i class="m" style="left:400.36px;top:511.00px;color:#1565d8">20</i>
<i class="m" style="left:420.88px;top:511.00px;color:#1565d8">(20.1)</i>
<i class="m" style="left:514.20px;top:511.00px;color:#1565d8">-39.5</i>
<i class="m" style="left:567.68px;top:511.00px;color:#1565d8">-130.3</i>
<i class="m" style="left:621.05px;top:511.00px;color:#1565d8">Tropo</i>
<i class="m" style="left:668.10px;top:511.00px;color:#1565d8">113.9</i>
<i class="m" style="left:715.32px;top:511.00px;color:#2026a3">238°</i>
<i class="m" style="left:748.88px;top:511.00px;color:#2f20a4">(248°)</i>
<i class="wc" style="left:313px;top:501px;height:12px"><b>C</b></i>
<i class="wa" style="left:306px;top:501px;height:12px">a</i>
<div class="row" style="top:513px;height:11px;background:#e3e3e3"></div>
<div class="strip" style="top:513px;height:11px;background:#d2d2d2"></div>
<i class="m" style="left:326.50px;top:522.00px;color:#1565d8">WBXZ-LP</i>
<i class="m" style="left:400.36px;top:522.00px;color:#1565d8">17</i>
<i class="m" style="left:514.20px;top:522.00px;color:#1565d8">-39.7</i>
<i class="m" style="left:567.68px;top:522.00px;color:#1565d8">-130.6</i>
<i class="m" style="left:621.05px;top:522.00px;color:#1565d8">2Edge</i>
<i class="m" style="left:674.72px;top:522.00px;color:#1565d8">73.0</i>
<i class="m" style="left:715.32px;top:522.00px;color:#189b6b">156°</i>
<i class="m" style="left:748.88px;top:522.00px;color:#14908c">(167°)</i>
<i class="wc" style="left:313px;top:513px;height:11px"><b>C</b></i>
<i class="wc" style="left:346.6px;top:528px"><b>C</b></i>
<i style="left:361px;top:526px;font-size:11px;line-height:14px;color:#111">= Co-channel warning</i>
<i class="wa" style="left:557px;top:528px">a</i>
<i style="left:572px;top:526px;font-size:11px;line-height:14px;color:#111">= Adjacent channel warning</i>
<div style="position:absolute;left:1.65px;width:300px;text-align:center;top:42.15px;font-size:14.6px;line-height:16.994px;font-weight:bold;color:#000;white-space:pre;">All Channels</div>
<div style="position:absolute;left:1.50px;width:300px;text-align:center;top:67.51px;font-size:11.3px;line-height:13.153px;font-weight:normal;color:#000;white-space:pre;">TrueNorth</div>
<div style="position:absolute;left:2.20px;width:300px;text-align:center;top:391.19px;font-size:12.3px;line-height:14.317px;font-weight:bold;color:#000;white-space:pre;">Search Criteria</div>
<div style="position:absolute;left:100.5px;top:403px;width:103.5px;height:1px;background:#444"></div>
<div style="position:absolute;left:1.70px;width:300px;text-align:center;top:412.50px;font-size:12.5px;line-height:14.550px;font-weight:normal;color:#000;white-space:pre;">CURRENT+PENDING</div>
<div style="position:absolute;left:1.70px;width:300px;text-align:center;top:424.80px;font-size:12.5px;line-height:14.550px;font-weight:normal;color:#000;white-space:pre;">Address: exact</div>
<div style="position:absolute;left:1.70px;width:300px;text-align:center;top:437.10px;font-size:12.5px;line-height:14.550px;font-weight:normal;color:#000;white-space:pre;">richmond hill, ON</div>
<div style="position:absolute;left:1.70px;width:300px;text-align:center;top:449.40px;font-size:12.5px;line-height:14.550px;font-weight:normal;color:#000;white-space:pre;">Postal code L4C 5L3</div>
<div style="position:absolute;left:1.70px;width:300px;text-align:center;top:461.70px;font-size:12.5px;line-height:14.550px;font-weight:normal;color:#000;white-space:pre;">Height: 30.0 ft.</div>
<div style="position:absolute;left:1.70px;width:300px;text-align:center;top:498.60px;font-size:12.5px;line-height:14.550px;font-weight:normal;color:#000;white-space:pre;">db datecode</div>
<div style="position:absolute;left:1.70px;width:300px;text-align:center;top:510.90px;font-size:12.5px;line-height:14.550px;font-weight:normal;color:#000;white-space:pre;">202202220057</div>
<div style="position:absolute;left:2.20px;width:300px;text-align:center;top:590.69px;font-size:12.3px;line-height:14.317px;font-weight:normal;color:#2222c8;white-space:pre;">www.tvfool.com</div>
<div style="position:absolute;left:103px;top:603px;width:98.5px;height:1px;background:#6a6ad8"></div>
<div style="position:absolute;left:8.00px;top:79.50px;width:287.0px;height:287.0px;border-radius:50%;background:radial-gradient(circle closest-side at 50% 50%, #fff 0 23.5px, #e2fbe2 24.5px 66px, #fefbe2 71px 88px, #fce4e4 93px 109px, #e2e2e2 113px 128px, transparent 128.5px), conic-gradient(from 0deg at 50% 50%, #fde0e0 0deg, #fde4de 30deg, #fbf2dc 48deg, #fafadc 62deg, #f4fadc 90deg, #e6fadf 118deg, #e0fae8 145deg, #dcf8f6 178deg, #dcecfc 205deg, #dce2fd 230deg, #e2dcfc 250deg, #ecdcfc 270deg, #f6dafa 295deg, #fcdcf2 325deg, #fde0e0 360deg);"></div>
<svg style="position:absolute;left:0;top:0" width="300" height="380" viewBox="0 0 300 380">
<circle cx="151.5" cy="223.0" r="24" fill="none" stroke="#505050" stroke-width="0.9"/>
<circle cx="151.5" cy="223.0" r="45" fill="none" stroke="#505050" stroke-width="0.9"/>
<circle cx="151.5" cy="223.0" r="65.5" fill="none" stroke="#505050" stroke-width="0.9"/>
<circle cx="151.5" cy="223.0" r="86" fill="none" stroke="#505050" stroke-width="0.9"/>
<circle cx="151.5" cy="223.0" r="107" fill="none" stroke="#505050" stroke-width="0.9"/>
<circle cx="151.5" cy="223.0" r="128" fill="none" stroke="#505050" stroke-width="0.9"/>
<line x1="7" y1="223.5" x2="296" y2="223.5" stroke="#000" stroke-width="1" stroke-dasharray="1 1"/>
<line x1="151.5" y1="79" x2="151.5" y2="367" stroke="#000" stroke-width="1" stroke-dasharray="1 1"/>
<text x="128.6" y="95.2" font-size="10" fill="#e00000" font-family="DejaVu Sans, Liberation Sans, sans-serif">N</text>
<line x1="120.27" y1="132.30" x2="109.89" y2="102.16" stroke="#f4f000" stroke-width="10" stroke-linecap="round"/>
<line x1="195.11" y1="325.74" x2="201.44" y2="340.64" stroke="#f4f000" stroke-width="10" stroke-linecap="round"/>
<line x1="49.59" y1="274.93" x2="37.63" y2="281.02" stroke="#f4f000" stroke-width="10" stroke-linecap="round"/>
<line x1="256.41" y1="162.43" x2="262.18" y2="159.10" stroke="#f4f000" stroke-width="10" stroke-linecap="round"/>
<line x1="120.27" y1="132.30" x2="109.89" y2="102.16" stroke="#1060d8" stroke-width="6.4" stroke-linecap="round"/>
<line x1="195.11" y1="325.74" x2="201.44" y2="340.64" stroke="#1060d8" stroke-width="6.4" stroke-linecap="round"/>
<line x1="49.59" y1="274.93" x2="37.63" y2="281.02" stroke="#1060d8" stroke-width="6.4" stroke-linecap="round"/>
<line x1="256.41" y1="162.43" x2="262.18" y2="159.10" stroke="#1060d8" stroke-width="6.4" stroke-linecap="round"/>
<line x1="162.50" y1="270.63" x2="180.25" y2="347.52" stroke="#0a2a78" stroke-width="3.6" stroke-linecap="round"/>
<line x1="162.50" y1="270.63" x2="180.25" y2="347.52" stroke="#1060d8" stroke-width="1.6" stroke-linecap="round"/>
<line x1="162.61" y1="271.13" x2="180.25" y2="347.52" stroke="#0a2a78" stroke-width="3.6" stroke-linecap="round"/>
<line x1="162.61" y1="271.13" x2="180.25" y2="347.52" stroke="#1060d8" stroke-width="1.6" stroke-linecap="round"/>
<line x1="162.84" y1="272.13" x2="180.25" y2="347.52" stroke="#0a2a78" stroke-width="3.6" stroke-linecap="round"/>
<line x1="162.84" y1="272.13" x2="180.25" y2="347.52" stroke="#1060d8" stroke-width="1.6" stroke-linecap="round"/>
<line x1="163.00" y1="272.83" x2="180.25" y2="347.52" stroke="#0a2a78" stroke-width="3.6" stroke-linecap="round"/>
<line x1="163.00" y1="272.83" x2="180.25" y2="347.52" stroke="#1060d8" stroke-width="1.6" stroke-linecap="round"/>
<line x1="164.62" y1="279.82" x2="180.25" y2="347.52" stroke="#0a2a78" stroke-width="3.6" stroke-linecap="round"/>
<line x1="164.62" y1="279.82" x2="180.25" y2="347.52" stroke="#1060d8" stroke-width="1.6" stroke-linecap="round"/>
<line x1="164.62" y1="279.82" x2="180.25" y2="347.52" stroke="#0a2a78" stroke-width="3.6" stroke-linecap="round"/>
<line x1="164.62" y1="279.82" x2="180.25" y2="347.52" stroke="#1060d8" stroke-width="1.6" stroke-linecap="round"/>
<line x1="164.62" y1="279.82" x2="180.25" y2="347.52" stroke="#0a2a78" stroke-width="3.6" stroke-linecap="round"/>
<line x1="164.62" y1="279.82" x2="180.25" y2="347.52" stroke="#1060d8" stroke-width="1.6" stroke-linecap="round"/>
<line x1="189.33" y1="300.56" x2="207.52" y2="337.87" stroke="#0a2a78" stroke-width="3.6" stroke-linecap="round"/>
<line x1="189.33" y1="300.56" x2="207.52" y2="337.87" stroke="#1060d8" stroke-width="1.6" stroke-linecap="round"/>
<line x1="120.37" y1="308.52" x2="107.79" y2="343.09" stroke="#0a2a78" stroke-width="3.6" stroke-linecap="round"/>
<line x1="120.37" y1="308.52" x2="107.79" y2="343.09" stroke="#1060d8" stroke-width="1.6" stroke-linecap="round"/>
<line x1="119.60" y1="310.64" x2="107.79" y2="343.09" stroke="#0a2a78" stroke-width="3.6" stroke-linecap="round"/>
<line x1="119.60" y1="310.64" x2="107.79" y2="343.09" stroke="#1060d8" stroke-width="1.6" stroke-linecap="round"/>
<line x1="195.52" y1="309.39" x2="209.52" y2="336.87" stroke="#0a2a78" stroke-width="3.6" stroke-linecap="round"/>
<line x1="195.52" y1="309.39" x2="209.52" y2="336.87" stroke="#1060d8" stroke-width="1.6" stroke-linecap="round"/>
<line x1="102.93" y1="322.58" x2="95.48" y2="337.87" stroke="#0a2a78" stroke-width="3.6" stroke-linecap="round"/>
<line x1="102.93" y1="322.58" x2="95.48" y2="337.87" stroke="#1060d8" stroke-width="1.6" stroke-linecap="round"/>
<line x1="266.24" y1="196.51" x2="276.02" y2="194.25" stroke="#8010c0" stroke-width="1.5" stroke-linecap="round"/>
<line x1="266.26" y1="194.39" x2="275.50" y2="192.08" stroke="#0a2a78" stroke-width="3.6" stroke-linecap="round"/>
<line x1="266.26" y1="194.39" x2="275.50" y2="192.08" stroke="#1060d8" stroke-width="1.6" stroke-linecap="round"/>
<line x1="213.76" y1="330.84" x2="215.40" y2="333.68" stroke="#0a2a78" stroke-width="3.6" stroke-linecap="round"/>
<line x1="213.76" y1="330.84" x2="215.40" y2="333.68" stroke="#1060d8" stroke-width="1.6" stroke-linecap="round"/>
<line x1="168.90" y1="346.82" x2="169.29" y2="349.56" stroke="#0a2a78" stroke-width="3.6" stroke-linecap="round"/>
<line x1="168.90" y1="346.82" x2="169.29" y2="349.56" stroke="#1060d8" stroke-width="1.6" stroke-linecap="round"/>
<line x1="52.49" y1="303.17" x2="52.18" y2="303.43" stroke="#0a2a78" stroke-width="3.6" stroke-linecap="round"/>
<line x1="52.49" y1="303.17" x2="52.18" y2="303.43" stroke="#1060d8" stroke-width="1.6" stroke-linecap="round"/>
<rect x="116.90" y="135.50" width="14.92" height="10.5" fill="#fff" fill-opacity="0.75"/>
<text x="117.60" y="144.50" font-size="10" fill="#1a66d8" font-family="DejaVu Sans, Liberation Sans, sans-serif">10</text>
<rect x="243.40" y="161.00" width="14.92" height="10.5" fill="#fff" fill-opacity="0.75"/>
<text x="244.10" y="170.00" font-size="10" fill="#1a66d8" font-family="DejaVu Sans, Liberation Sans, sans-serif">12</text>
<rect x="252.40" y="194.00" width="14.92" height="10.5" fill="#fff" fill-opacity="0.75"/>
<text x="253.10" y="203.00" font-size="10" fill="#9414d2" font-family="DejaVu Sans, Liberation Sans, sans-serif">22</text>
<rect x="265.90" y="189.00" width="14.92" height="10.5" fill="#fff" fill-opacity="0.75"/>
<text x="266.60" y="198.00" font-size="10" fill="#1a66d8" font-family="DejaVu Sans, Liberation Sans, sans-serif">27</text>
<rect x="154.80" y="257.60" width="14.92" height="10.5" fill="#fff" fill-opacity="0.75"/>
<text x="155.50" y="266.60" font-size="10" fill="#1a66d8" font-family="DejaVu Sans, Liberation Sans, sans-serif">20</text>
<rect x="157.40" y="271.70" width="14.92" height="10.5" fill="#fff" fill-opacity="0.75"/>
<text x="158.10" y="280.70" font-size="10" fill="#1a66d8" font-family="DejaVu Sans, Liberation Sans, sans-serif">25</text>
<rect x="160.90" y="285.90" width="14.92" height="10.5" fill="#fff" fill-opacity="0.75"/>
<text x="161.60" y="294.90" font-size="10" fill="#1a66d8" font-family="DejaVu Sans, Liberation Sans, sans-serif">19</text>
<rect x="178.20" y="289.00" width="14.92" height="10.5" fill="#fff" fill-opacity="0.75"/>
<text x="178.90" y="298.00" font-size="10" fill="#1a66d8" font-family="DejaVu Sans, Liberation Sans, sans-serif">32</text>
<rect x="162.90" y="300.00" width="14.92" height="10.5" fill="#fff" fill-opacity="0.75"/>
<text x="163.60" y="309.00" font-size="10" fill="#1a66d8" font-family="DejaVu Sans, Liberation Sans, sans-serif">41</text>
<rect x="187.10" y="300.00" width="14.92" height="10.5" fill="#fff" fill-opacity="0.75"/>
<text x="187.80" y="309.00" font-size="10" fill="#1a66d8" font-family="DejaVu Sans, Liberation Sans, sans-serif">39</text>
<rect x="166.90" y="313.00" width="14.92" height="10.5" fill="#fff" fill-opacity="0.75"/>
<text x="167.60" y="322.00" font-size="10" fill="#1a66d8" font-family="DejaVu Sans, Liberation Sans, sans-serif">47</text>
<rect x="189.10" y="317.00" width="8.56" height="10.5" fill="#fff" fill-opacity="0.75"/>
<text x="189.80" y="326.00" font-size="10" fill="#1a66d8" font-family="DejaVu Sans, Liberation Sans, sans-serif">7</text>
<rect x="203.40" y="319.00" width="14.92" height="10.5" fill="#fff" fill-opacity="0.75"/>
<text x="204.10" y="328.00" font-size="10" fill="#1a66d8" font-family="DejaVu Sans, Liberation Sans, sans-serif">33</text>
<rect x="171.00" y="327.50" width="14.92" height="10.5" fill="#fff" fill-opacity="0.75"/>
<text x="171.70" y="336.50" font-size="10" fill="#1a66d8" font-family="DejaVu Sans, Liberation Sans, sans-serif">40</text>
<rect x="160.90" y="334.00" width="14.92" height="10.5" fill="#fff" fill-opacity="0.75"/>
<text x="161.60" y="343.00" font-size="10" fill="#1a66d8" font-family="DejaVu Sans, Liberation Sans, sans-serif">42</text>
<rect x="173.00" y="341.60" width="14.92" height="10.5" fill="#fff" fill-opacity="0.75"/>
<text x="173.70" y="350.60" font-size="10" fill="#1a66d8" font-family="DejaVu Sans, Liberation Sans, sans-serif">44</text>
<rect x="50.70" y="267.00" width="14.92" height="10.5" fill="#fff" fill-opacity="0.75"/>
<text x="51.40" y="276.00" font-size="10" fill="#1a66d8" font-family="DejaVu Sans, Liberation Sans, sans-serif">13</text>
<rect x="52.70" y="294.00" width="14.92" height="10.5" fill="#fff" fill-opacity="0.75"/>
<text x="53.40" y="303.00" font-size="10" fill="#1a66d8" font-family="DejaVu Sans, Liberation Sans, sans-serif">17</text>
<rect x="116.40" y="296.00" width="14.92" height="10.5" fill="#fff" fill-opacity="0.75"/>
<text x="117.10" y="305.00" font-size="10" fill="#1a66d8" font-family="DejaVu Sans, Liberation Sans, sans-serif">36</text>
<rect x="100.40" y="310.50" width="14.92" height="10.5" fill="#fff" fill-opacity="0.75"/>
<text x="101.10" y="319.50" font-size="10" fill="#1a66d8" font-family="DejaVu Sans, Liberation Sans, sans-serif">35</text>
<rect x="111.20" y="310.50" width="14.92" height="10.5" fill="#fff" fill-opacity="0.75"/>
<text x="111.90" y="319.50" font-size="10" fill="#1a66d8" font-family="DejaVu Sans, Liberation Sans, sans-serif">15</text>
</svg>
<svg style="position:absolute;left:0;top:600px" width="800" height="168" viewBox="0 600 800 168" font-family="DejaVu Sans, Liberation Sans, sans-serif">
<rect x="39" y="637" width="10" height="123" fill="#e4e4e4"/>
<rect x="70" y="633" width="31" height="127" fill="#e4e4e4"/>
<line x1="9" y1="645.30" x2="172" y2="645.30" stroke="#666" stroke-width="1" stroke-dasharray="1 1.1"/>
<line x1="216" y1="645.30" x2="791" y2="645.30" stroke="#666" stroke-width="1" stroke-dasharray="1 1.1"/>
<line x1="9" y1="658.07" x2="172" y2="658.07" stroke="#666" stroke-width="1" stroke-dasharray="1 1.1"/>
<line x1="216" y1="658.07" x2="791" y2="658.07" stroke="#666" stroke-width="1" stroke-dasharray="1 1.1"/>
<line x1="9" y1="670.84" x2="172" y2="670.84" stroke="#666" stroke-width="1" stroke-dasharray="1 1.1"/>
<line x1="216" y1="670.84" x2="791" y2="670.84" stroke="#666" stroke-width="1" stroke-dasharray="1 1.1"/>
<line x1="9" y1="683.61" x2="172" y2="683.61" stroke="#666" stroke-width="1" stroke-dasharray="1 1.1"/>
<line x1="216" y1="683.61" x2="791" y2="683.61" stroke="#666" stroke-width="1" stroke-dasharray="1 1.1"/>
<line x1="9" y1="696.38" x2="172" y2="696.38" stroke="#666" stroke-width="1" stroke-dasharray="1 1.1"/>
<line x1="216" y1="696.38" x2="791" y2="696.38" stroke="#666" stroke-width="1" stroke-dasharray="1 1.1"/>
<line x1="9" y1="709.15" x2="172" y2="709.15" stroke="#666" stroke-width="1" stroke-dasharray="1 1.1"/>
<line x1="216" y1="709.15" x2="791" y2="709.15" stroke="#666" stroke-width="1" stroke-dasharray="1 1.1"/>
<line x1="9" y1="721.92" x2="172" y2="721.92" stroke="#666" stroke-width="1" stroke-dasharray="1 1.1"/>
<line x1="216" y1="721.92" x2="791" y2="721.92" stroke="#666" stroke-width="1" stroke-dasharray="1 1.1"/>
<line x1="9" y1="734.69" x2="172" y2="734.69" stroke="#666" stroke-width="1" stroke-dasharray="1 1.1"/>
<line x1="216" y1="734.69" x2="791" y2="734.69" stroke="#666" stroke-width="1" stroke-dasharray="1 1.1"/>
<line x1="9" y1="747.46" x2="172" y2="747.46" stroke="#666" stroke-width="1" stroke-dasharray="1 1.1"/>
<line x1="216" y1="747.46" x2="791" y2="747.46" stroke="#666" stroke-width="1" stroke-dasharray="1 1.1"/>
<path d="M8 760.4 V632.6 H12.5 M65 632.6 H111 M163.2 632.6 H173.2 V760.4 H8" fill="none" stroke="#000" stroke-width="1.8"/>
<path d="M214.7 760.4 V632.6 H482.5 M524 632.6 H792.3 V760.4 H214.7" fill="none" stroke="#000" stroke-width="1.8"/>
<text x="17.0" y="635.9" font-size="11" font-weight="bold">VHF</text>
<text x="47.4" y="635.9" font-size="11" font-weight="bold">Lo</text>
<text x="116.0" y="635.9" font-size="11" font-weight="bold">VHF</text>
<text x="146.2" y="635.9" font-size="11" font-weight="bold">Hi</text>
<text x="491.4" y="635.9" font-size="11" font-weight="bold">UHF</text>
<text x="181" y="635.5" font-size="11.2">dBm</text>
<text x="202.5" y="648.20" font-size="11.2" text-anchor="end">-10</text>
<text x="202.5" y="660.97" font-size="11.2" text-anchor="end">-20</text>
<text x="202.5" y="673.74" font-size="11.2" text-anchor="end">-30</text>
<text x="202.5" y="686.51" font-size="11.2" text-anchor="end">-40</text>
<text x="202.5" y="699.28" font-size="11.2" text-anchor="end">-50</text>
<text x="202.5" y="712.05" font-size="11.2" text-anchor="end">-60</text>
<text x="202.5" y="724.82" font-size="11.2" text-anchor="end">-70</text>
<text x="202.5" y="737.59" font-size="11.2" text-anchor="end">-80</text>
<text x="202.5" y="750.36" font-size="11.2" text-anchor="end">-90</text>
<text x="176" y="761.8" font-size="8.6" letter-spacing="0.32">Channel</text>
<rect x="9.22" y="755" width="7.05" height="8" fill="#fff"/><text x="12.75" y="761.7" font-size="7" text-anchor="middle">2</text>
<rect x="30.47" y="755" width="7.05" height="8" fill="#fff"/><text x="34.00" y="761.7" font-size="7" text-anchor="middle">4</text>
<rect x="50.48" y="755" width="7.05" height="8" fill="#fff"/><text x="54.00" y="761.7" font-size="7" text-anchor="middle">5</text>
<rect x="61.48" y="755" width="7.05" height="8" fill="#fff"/><text x="65.00" y="761.7" font-size="7" text-anchor="middle">6</text>
<rect x="102.48" y="755" width="7.05" height="8" fill="#fff"/><text x="106.00" y="761.7" font-size="7" text-anchor="middle">7</text>
<rect x="123.48" y="755" width="7.05" height="8" fill="#fff"/><text x="127.00" y="761.7" font-size="7" text-anchor="middle">9</text>
<rect x="141.95" y="755" width="11.50" height="8" fill="#fff"/><text x="147.70" y="761.7" font-size="7" text-anchor="middle">11</text>
<rect x="161.75" y="755" width="11.50" height="8" fill="#fff"/><text x="167.50" y="761.7" font-size="7" text-anchor="middle">13</text>
<rect x="214.25" y="755" width="11.50" height="8" fill="#fff"/><text x="220.00" y="761.7" font-size="7" text-anchor="middle">14</text>
<rect x="234.87" y="755" width="11.50" height="8" fill="#fff"/><text x="240.62" y="761.7" font-size="7" text-anchor="middle">16</text>
<rect x="265.80" y="755" width="11.50" height="8" fill="#fff"/><text x="271.55" y="761.7" font-size="7" text-anchor="middle">19</text>
<rect x="296.73" y="755" width="11.50" height="8" fill="#fff"/><text x="302.48" y="761.7" font-size="7" text-anchor="middle">22</text>
<rect x="327.66" y="755" width="11.50" height="8" fill="#fff"/><text x="333.41" y="761.7" font-size="7" text-anchor="middle">25</text>
<rect x="358.59" y="755" width="11.50" height="8" fill="#fff"/><text x="364.34" y="761.7" font-size="7" text-anchor="middle">28</text>
<rect x="389.52" y="755" width="11.50" height="8" fill="#fff"/><text x="395.27" y="761.7" font-size="7" text-anchor="middle">31</text>
<rect x="420.45" y="755" width="11.50" height="8" fill="#fff"/><text x="426.20" y="761.7" font-size="7" text-anchor="middle">34</text>
<rect x="451.38" y="755" width="11.50" height="8" fill="#fff"/><text x="457.13" y="761.7" font-size="7" text-anchor="middle">37</text>
<rect x="482.31" y="755" width="11.50" height="8" fill="#fff"/><text x="488.06" y="761.7" font-size="7" text-anchor="middle">40</text>
<rect x="513.24" y="755" width="11.50" height="8" fill="#fff"/><text x="518.99" y="761.7" font-size="7" text-anchor="middle">43</text>
<rect x="544.17" y="755" width="11.50" height="8" fill="#fff"/><text x="549.92" y="761.7" font-size="7" text-anchor="middle">46</text>
<rect x="575.10" y="755" width="11.50" height="8" fill="#fff"/><text x="580.85" y="761.7" font-size="7" text-anchor="middle">49</text>
<rect x="606.03" y="755" width="11.50" height="8" fill="#fff"/><text x="611.78" y="761.7" font-size="7" text-anchor="middle">52</text>
<rect x="636.96" y="755" width="11.50" height="8" fill="#fff"/><text x="642.71" y="761.7" font-size="7" text-anchor="middle">55</text>
<rect x="667.89" y="755" width="11.50" height="8" fill="#fff"/><text x="673.64" y="761.7" font-size="7" text-anchor="middle">58</text>
<rect x="698.82" y="755" width="11.50" height="8" fill="#fff"/><text x="704.57" y="761.7" font-size="7" text-anchor="middle">61</text>
<rect x="729.75" y="755" width="11.50" height="8" fill="#fff"/><text x="735.50" y="761.7" font-size="7" text-anchor="middle">64</text>
<rect x="760.68" y="755" width="11.50" height="8" fill="#fff"/><text x="766.43" y="761.7" font-size="7" text-anchor="middle">67</text>
<rect x="781.55" y="755" width="11.50" height="8" fill="#fff"/><text x="787.30" y="761.7" font-size="7" text-anchor="middle">69</text>
<rect x="99.60" y="750.63" width="12.8" height="6.8" rx="3.4" fill="#f2f000" fill-opacity="0.9"/>
<rect x="101.30" y="752.73" width="9.4" height="2.6" rx="1" fill="#8ab0e8" stroke="#6a8cc8" stroke-width="0.7"/>
<text x="108.80" y="748.43" font-size="9.4" fill="#88b0e8" transform="rotate(-90 108.80 748.43)">WBBZ-TV</text>
<rect x="131.00" y="730.96" width="12.8" height="6.8" rx="3.4" fill="#f2f000" fill-opacity="0.9"/>
<rect x="132.70" y="733.06" width="9.4" height="2.6" rx="1" fill="#1258d8" stroke="#04205a" stroke-width="0.7"/>
<text x="140.20" y="728.76" font-size="9.4" fill="#1a66d8" transform="rotate(-90 140.20 728.76)">CKVR-DT</text>
<rect x="161.10" y="754.07" width="12.8" height="6.8" rx="3.4" fill="#f2f000" fill-opacity="0.9"/>
<rect x="162.80" y="756.17" width="9.4" height="2.6" rx="1" fill="#1258d8" stroke="#04205a" stroke-width="0.7"/>
<text x="170.30" y="751.87" font-size="9.4" fill="#1a66d8" transform="rotate(-90 170.30 751.87)">CKCO-DT</text>
<rect x="225.61" y="729.87" width="9.4" height="2.6" rx="1" fill="#1258d8" stroke="#04205a" stroke-width="0.7"/>
<text x="233.11" y="725.57" font-size="9.4" fill="#1a66d8" transform="rotate(-90 233.11 725.57)">CHCH-DT</text>
<rect x="266.85" y="676.36" width="9.4" height="2.6" rx="1" fill="#1258d8" stroke="#04205a" stroke-width="0.7"/>
<text x="274.35" y="672.06" font-size="9.4" fill="#1a66d8" transform="rotate(-90 274.35 672.06)">CICA-DT</text>
<rect x="277.16" y="674.45" width="9.4" height="2.6" rx="1" fill="#1258d8" stroke="#04205a" stroke-width="0.7"/>
<text x="284.66" y="670.15" font-size="9.4" fill="#1a66d8" transform="rotate(-90 284.66 670.15)">CBLT-DT</text>
<rect x="297.78" y="745.06" width="9.4" height="2.6" rx="1" fill="#8a10d0" stroke="#500080" stroke-width="0.7"/>
<text x="305.28" y="740.76" font-size="9.4" fill="#9414d2" transform="rotate(-90 305.28 740.76)">CHEX-TV-2</text>
<rect x="328.71" y="675.08" width="9.4" height="2.6" rx="1" fill="#1258d8" stroke="#04205a" stroke-width="0.7"/>
<text x="336.21" y="670.78" font-size="9.4" fill="#1a66d8" transform="rotate(-90 336.21 670.78)">CBLFT-DT</text>
<rect x="400.88" y="721.06" width="9.4" height="2.6" rx="1" fill="#1258d8" stroke="#04205a" stroke-width="0.7"/>
<text x="408.38" y="716.76" font-size="9.4" fill="#1a66d8" transform="rotate(-90 408.38 716.76)">WNLO-DT</text>
<rect x="431.81" y="751.70" width="9.4" height="2.6" rx="1" fill="#8ab0e8" stroke="#6a8cc8" stroke-width="0.7"/>
<text x="439.31" y="747.40" font-size="9.4" fill="#88b0e8" transform="rotate(-90 439.31 747.40)">CHCJ-DT</text>
<rect x="442.12" y="726.93" width="9.4" height="2.6" rx="1" fill="#1258d8" stroke="#04205a" stroke-width="0.7"/>
<text x="449.62" y="722.63" font-size="9.4" fill="#1a66d8" transform="rotate(-90 449.62 722.63)">CITS-DT</text>
<rect x="473.05" y="734.34" width="9.4" height="2.6" rx="1" fill="#1258d8" stroke="#04205a" stroke-width="0.7"/>
<text x="480.55" y="730.04" font-size="9.4" fill="#1a66d8" transform="rotate(-90 480.55 730.04)">WIVB-DT</text>
<rect x="483.36" y="686.19" width="9.4" height="2.6" rx="1" fill="#1258d8" stroke="#04205a" stroke-width="0.7"/>
<text x="490.86" y="681.89" font-size="9.4" fill="#1a66d8" transform="rotate(-90 490.86 681.89)">CJMT-DT</text>
<rect x="493.67" y="677.26" width="9.4" height="2.6" rx="1" fill="#1258d8" stroke="#04205a" stroke-width="0.7"/>
<text x="501.17" y="672.96" font-size="9.4" fill="#1a66d8" transform="rotate(-90 501.17 672.96)">CIII-DT-41</text>
<rect x="524.60" y="686.19" width="9.4" height="2.6" rx="1" fill="#1258d8" stroke="#04205a" stroke-width="0.7"/>
<text x="532.10" y="681.89" font-size="9.4" fill="#1a66d8" transform="rotate(-90 532.10 681.89)">CITY-DT</text>
<rect x="555.53" y="686.19" width="9.4" height="2.6" rx="1" fill="#1258d8" stroke="#04205a" stroke-width="0.7"/>
<text x="563.03" y="681.89" font-size="9.4" fill="#1a66d8" transform="rotate(-90 563.03 681.89)">CFMT-DT</text>
</svg>
</body></html>
